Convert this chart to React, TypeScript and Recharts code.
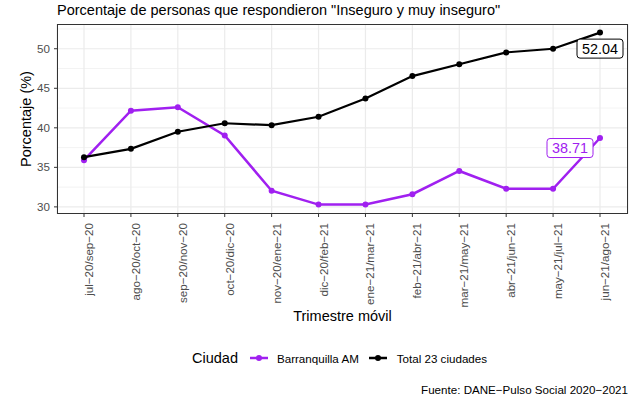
import { LineChart, Line, XAxis, YAxis, CartesianGrid, LabelList } from 'recharts';

document.body.style.margin = '0';

const trimestres = [
  'jul−20/sep−20', 'ago−20/oct−20', 'sep−20/nov−20', 'oct−20/dic−20',
  'nov−20/ene−21', 'dic−20/feb−21', 'ene−21/mar−21', 'feb−21/abr−21',
  'mar−21/may−21', 'abr−21/jun−21', 'may−21/jul−21', 'jun−21/ago−21',
];
const barranquilla = [35.9, 42.16, 42.6, 39.04, 32.04, 30.29, 30.3, 31.6, 34.54, 32.29, 32.29, 38.71];
const total23 = [36.29, 37.34, 39.5, 40.58, 40.33, 41.4, 43.7, 46.54, 48.04, 49.54, 50.0, 52.04];
const yTicks = [30, 35, 40, 45, 50];
const yMinor = [32.5, 37.5, 42.5, 47.5, 52.5];

const PURPLE = '#A020F0';
const FONT = '"Liberation Sans", Arial, sans-serif';

const data = trimestres.map((t, i) => ({
  trimestre: t,
  barranquilla: barranquilla[i],
  total: total23[i],
}));

const XTick = ({ x, y, payload }: any) => (
  <text
    transform={`translate(${x + 9},${y + 4}) rotate(-90)`}
    textAnchor="end"
    fontSize={11.6}
    fill="#4D4D4D"
    fontFamily={FONT}
  >
    {payload.value}
  </text>
);

// last-point label box, ggrepel style
const makeLabel = (color: string, dx: number, dy: number) => (props: any) => {
  const { x, y, value, index } = props;
  if (index !== data.length - 1) return null;
  const cx = x + dx;
  const cy = y + dy;
  const txt = Number(value).toFixed(2);
  return (
    <g>
      <rect x={cx - 23} y={cy - 9.5} width={46} height={19} rx={3} fill="#fff" stroke={color} strokeWidth={1} />
      <text x={cx} y={cy} textAnchor="middle" dominantBaseline="central" fontSize={14.4} fill={color} fontFamily={FONT}>
        {txt}
      </text>
    </g>
  );
};

const LegendKey = ({ color }: { color: string }) => (
  <svg width={20} height={10} style={{ display: 'block' }}>
    <line x1={1} y1={5} x2={19} y2={5} stroke={color} strokeWidth={2.5} />
    <circle cx={10} cy={5} r={3} fill={color} />
  </svg>
);

export default function App() {
  return (
    <div style={{ position: 'relative', width: 636, height: 403, background: '#fff', fontFamily: FONT, overflow: 'hidden' }}>
      <div style={{ position: 'absolute', left: 57, top: 2, fontSize: 14.5, lineHeight: '17px', whiteSpace: 'nowrap' }}>
        Porcentaje de personas que respondieron "Inseguro y muy inseguro"
      </div>

      <LineChart width={636} height={403} data={data} margin={{ top: 24, right: 8, left: 0, bottom: 0 }}>
        <CartesianGrid horizontalValues={yMinor} vertical={false} stroke="#EBEBEB" strokeWidth={0.6} />
        <CartesianGrid horizontalValues={yTicks} stroke="#EBEBEB" strokeWidth={1.2} />
        <XAxis
          dataKey="trimestre"
          interval={0}
          height={189}
          padding={{ left: 27, right: 28 }}
          axisLine={false}
          tickLine={{ stroke: '#333' }}
          tickSize={3}
          tick={<XTick />}
        />
        <YAxis
          width={57}
          domain={[29.1, 53.13]}
          ticks={yTicks}
          allowDataOverflow
          axisLine={false}
          tickLine={{ stroke: '#333' }}
          tickSize={3}
          tickMargin={4}
          tick={{ fill: '#4D4D4D', fontSize: 11.6, fontFamily: FONT }}
        />
        <Line
          type="linear"
          dataKey="barranquilla"
          stroke={PURPLE}
          strokeWidth={2.5}
          dot={{ r: 3, fill: PURPLE, stroke: PURPLE, strokeWidth: 0 }}
          isAnimationActive={false}
        >
          <LabelList dataKey="barranquilla" content={makeLabel(PURPLE, -30, 10)} />
        </Line>
        <Line
          type="linear"
          dataKey="total"
          stroke="#000"
          strokeWidth={2.2}
          dot={{ r: 3, fill: '#000', stroke: '#000', strokeWidth: 0 }}
          isAnimationActive={false}
        >
          <LabelList dataKey="total" content={makeLabel('#000', 0, 16)} />
        </Line>
      </LineChart>

      {/* panel border */}
      <div style={{ position: 'absolute', left: 57, top: 24, width: 571, height: 190, border: '1px solid #333', boxSizing: 'border-box', pointerEvents: 'none' }} />

      <div style={{ position: 'absolute', left: 26 - 60, top: 119 - 9, width: 120, textAlign: 'center', fontSize: 14.5, lineHeight: '18px', transform: 'rotate(-90deg)' }}>
        Porcentaje (%)
      </div>
      <div style={{ position: 'absolute', left: 57, width: 571, top: 307, textAlign: 'center', fontSize: 14.5, lineHeight: '18px' }}>
        Trimestre móvil
      </div>

      <div style={{ position: 'absolute', left: 192, top: 349, height: 18, display: 'flex', alignItems: 'center', whiteSpace: 'nowrap' }}>
        <span style={{ fontSize: 14.5, marginRight: 11 }}>Ciudad</span>
        <LegendKey color={PURPLE} />
        <span style={{ fontSize: 11.6, marginLeft: 8, marginRight: 9 }}>Barranquilla AM</span>
        <LegendKey color="#000" />
        <span style={{ fontSize: 11.6, marginLeft: 9 }}>Total 23 ciudades</span>
      </div>

      <div style={{ position: 'absolute', right: 8, top: 382, fontSize: 11.6, lineHeight: '16px', whiteSpace: 'nowrap' }}>
        Fuente: DANE−Pulso Social 2020−2021
      </div>
    </div>
  );
}
